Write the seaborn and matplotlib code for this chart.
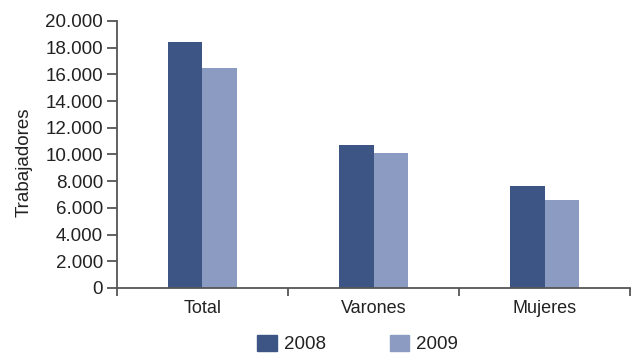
import matplotlib
matplotlib.use("Agg")
import matplotlib.pyplot as plt
import seaborn as sns
import pandas as pd
from matplotlib.ticker import FuncFormatter, FixedLocator

# Trabajadores por sexo, 2008 y 2009
categorias = ["Total", "Varones", "Mujeres"]
anios = ["2008", "2009"]
valores_2008 = [18390, 10700, 7600]
valores_2009 = [16440, 10100, 6600]
yticks = [0, 2000, 4000, 6000, 8000, 10000, 12000, 14000, 16000, 18000, 20000]

df = pd.DataFrame({
    "categoria": categorias * 2,
    "anio": [anios[0]] * 3 + [anios[1]] * 3,
    "trabajadores": valores_2008 + valores_2009,
})

sns.set_theme(style="white")
plt.rcParams["font.family"] = ["Liberation Sans", "DejaVu Sans"]

fig = plt.figure(figsize=(6.32, 3.55), dpi=100)
ax = fig.add_axes([0.185, 0.189, 0.812, 0.752])

colores = {"2008": "#3c5584", "2009": "#8b9bc1"}
sns.barplot(data=df, x="categoria", y="trabajadores", hue="anio",
            order=categorias, hue_order=anios, palette=colores,
            width=0.4, gap=0, saturation=1, linewidth=0,
            ax=ax, legend=False)

ax.set_xlim(-0.5, 2.5)
ax.set_ylim(0, 20000)
ax.set_yticks(yticks)
ax.yaxis.set_major_formatter(FuncFormatter(lambda v, p: f"{int(v):,}".replace(",", ".")))

ax.set_xlabel("")
ax.set_ylabel("Trabajadores", fontsize=13.5, color="#222222")
ax.yaxis.set_label_coords(-0.164, 0.47)

for s in ["top", "right"]:
    ax.spines[s].set_visible(False)
for s in ["left", "bottom"]:
    ax.spines[s].set_color("#555555")
    ax.spines[s].set_linewidth(1.3)

ax.xaxis.set_minor_locator(FixedLocator([-0.5, 0.5, 1.5, 2.5]))
ax.tick_params(axis="x", which="major", length=0, labelsize=13,
               labelcolor="#222222", pad=9)
ax.tick_params(axis="x", which="minor", length=6, width=1.3,
               color="#555555", direction="out", bottom=True)
ax.tick_params(axis="y", length=7, width=1.3, color="#555555",
               labelsize=13.5, labelcolor="#222222", left=True, pad=3)

handles = [plt.Rectangle((0, 0), 1, 1, color=colores[a]) for a in anios]
fig.legend(handles, anios, loc="center", bbox_to_anchor=(0.566, 0.031),
           ncol=2, frameon=False, fontsize=13.5, handlelength=1.05,
           handleheight=0.95, handletextpad=0.37, columnspacing=3.4,
           labelcolor="#222222", borderpad=0, borderaxespad=0)

fig.savefig("out.png", dpi=100)
